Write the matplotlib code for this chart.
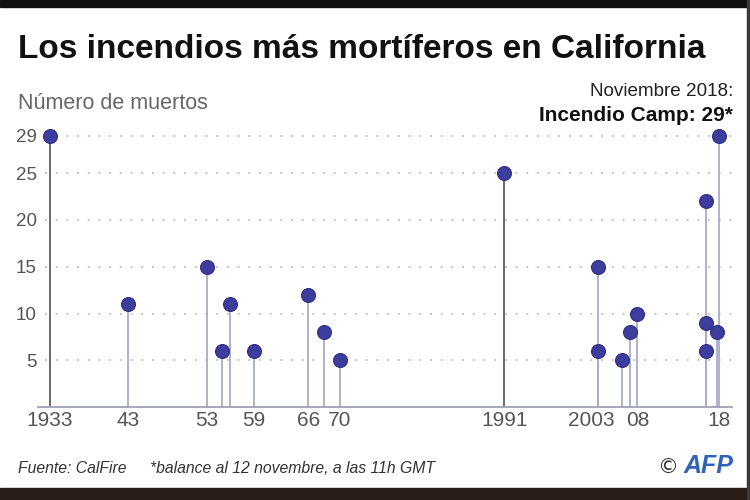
import matplotlib
matplotlib.use("Agg")
import matplotlib.pyplot as plt
from matplotlib.patches import Rectangle
from matplotlib.transforms import ScaledTranslation

# ---- data ----
years = [1933, 1943, 1953, 1955, 1956, 1959, 1966, 1968, 1970, 1991,
         2003, 2003, 2006, 2007, 2008, 2016.7, 2016.7, 2016.7, 2018.1, 2018.45]
deaths = [29, 11, 15, 6, 11, 6, 12, 8, 5, 25,
          15, 6, 5, 8, 10, 22, 9, 6, 8, 29]
xtick_pos = [1933, 1943, 1953, 1959, 1966, 1970, 1991, 2003, 2008, 2018.35]
xtick_labels = ["1933", "43", "53", "59", "66", "70", "1991", "2003", "08", "18"]
ytick_pos = [5, 10, 15, 20, 25, 29]
ytick_labels = ["5", "10", "15", "20", "25", "29"]

title = "Los incendios más mortíferos en California"
ylabel = "Número de muertos"
note1 = "Noviembre 2018:"
note2 = "Incendio Camp: 29*"
source = "Fuente: CalFire"
footnote = "*balance al 12 novembre, a las 11h GMT"

plt.rcParams['font.family'] = ['Liberation Sans', 'DejaVu Sans']

W, H = 750, 500
fig = plt.figure(figsize=(7.5, 5), dpi=100)
fig.patch.set_facecolor('white')

ax = fig.add_axes([38 / W, (H - 407) / H, 694 / W, 280.5 / H])
ax.set_xlim(1931.47, 2020.07)
ax.set_ylim(0, 30)

# gridlines
for yv in ytick_pos:
    ax.axhline(yv, xmin=7 / 694, xmax=1, color='#c4c4c4', lw=1.4,
               linestyle=(0, (1, 4.5)), zorder=0)

# stems
stem_cols = ['#5c5c6e' if (d >= 25 and y < 2000) else '#a9a9cc'
             for y, d in zip(years, deaths)]
ax.vlines(years, 0, deaths, colors=stem_cols, lw=1.3, zorder=2)
ax.plot(years, deaths, 'o', ms=10, mfc='#3d3d9e', mec='#2d2d86', mew=0.8, zorder=3)

for s in ['top', 'right', 'left']:
    ax.spines[s].set_visible(False)
ax.spines['bottom'].set_color('#a0a0b8')
ax.spines['bottom'].set_linewidth(1.3)

ax.set_xticks(xtick_pos)
ax.set_xticklabels(xtick_labels)
ax.set_yticks(ytick_pos)
ax.set_yticklabels(ytick_labels)
ax.tick_params(axis='x', length=0, pad=3, labelsize=15, labelcolor='#555555')
ax.tick_params(axis='y', length=0, pad=1, labelsize=13.5, labelcolor='#555555')

for lab in ax.get_xticklabels():
    if lab.get_text() == "2003":
        lab.set_transform(lab.get_transform() + ScaledTranslation(-0.066, 0, fig.dpi_scale_trans))

# texts
fig.text(18 / W, (H - 58) / H, title, fontsize=24, fontweight='bold', color='#111111',
         va='baseline', ha='left')
fig.text(18 / W, (H - 109) / H, ylabel, fontsize=15.5, color='#666666', va='baseline', ha='left')
fig.text(733 / W, (H - 96) / H, note1, fontsize=13.6, color='#222222', va='baseline', ha='right')
fig.text(733 / W, (H - 121) / H, note2, fontsize=15, fontweight='bold', color='#111111',
         va='baseline', ha='right')
fig.text(18 / W, (H - 473) / H, source, fontsize=11.3, style='italic', color='#333333',
         va='baseline', ha='left')
fig.text(150 / W, (H - 473) / H, footnote, fontsize=11.3, style='italic', color='#333333',
         va='baseline', ha='left')
fig.text(657 / W, (H - 473) / H, "©", fontsize=15, color='#333333', va='baseline', ha='left',
         family=['DejaVu Sans'])
fig.text(733 / W, (H - 473) / H, "AFP", fontsize=18, fontweight='bold', style='italic',
         color='#2f63b8', va='baseline', ha='right')

# decorative frame bands
fig.patches.append(Rectangle((0, (H - 7) / H), 1, 7 / H, transform=fig.transFigure,
                             color='#111111', zorder=10))
fig.patches.append(Rectangle((0, 0), 1, 12 / H, transform=fig.transFigure,
                             color='#2a1c16', zorder=10))
fig.patches.append(Rectangle((747 / W, 0), 3 / W, 1, transform=fig.transFigure,
                             color='#3a3a3a', zorder=10))

fig.savefig('out.png', dpi=100, facecolor='white')
